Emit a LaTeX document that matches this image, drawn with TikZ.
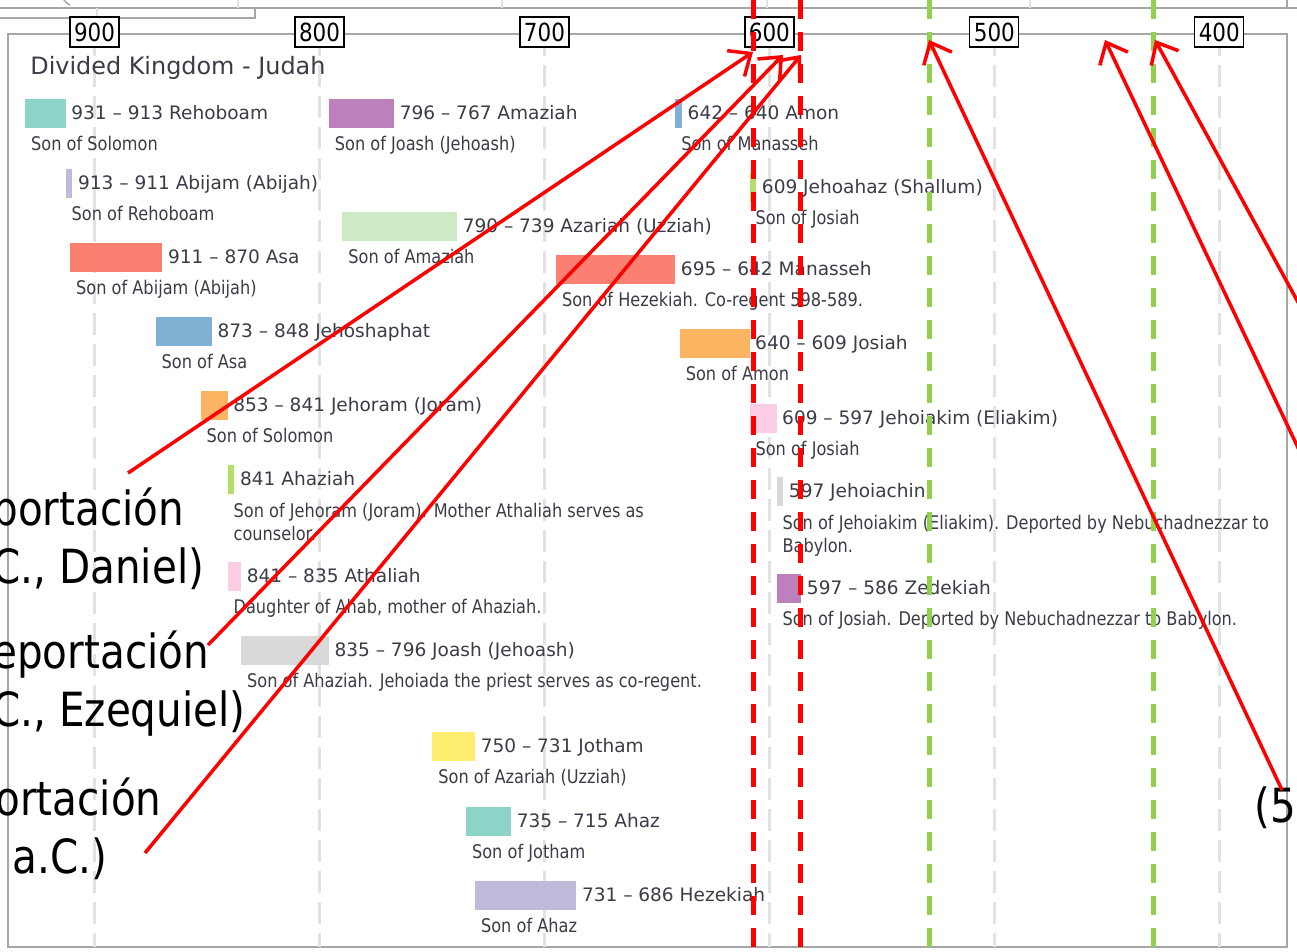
\documentclass[tikz,border=0pt]{standalone}
\usepackage{fontspec}
\newfontfamily\chartfont{DejaVu Sans}
\newfontfamily\narrowfont{DejaVu Sans}[FakeStretch=0.86]
\usepackage{xcolor}
\usetikzlibrary{positioning,arrows.meta}

\definecolor{ink}{HTML}{3C3C48}
\definecolor{panelgray}{HTML}{A6A6A6}
\definecolor{gridgray}{HTML}{E2E2E2}
\definecolor{returngreen}{HTML}{92D050}
\definecolor{cTeal}{HTML}{8DD3C7}
\definecolor{cLavender}{HTML}{BEBADA}
\definecolor{cSalmon}{HTML}{FB8072}
\definecolor{cBlue}{HTML}{80B1D3}
\definecolor{cOrange}{HTML}{FDB462}
\definecolor{cGreen}{HTML}{B3DE69}
\definecolor{cPink}{HTML}{FCCDE5}
\definecolor{cGray}{HTML}{D9D9D9}
\definecolor{cPurple}{HTML}{BC80BD}
\definecolor{cMint}{HTML}{CCEBC5}
\definecolor{cYellow}{HTML}{FFED6F}

\begin{document}
\begin{tikzpicture}[
    x=0.02cm, y=-0.02cm,
    >={Straight Barb[length=0.36cm,width=0.62cm]},
    bar/.style={anchor=west, inner sep=0pt, minimum height=0.58cm},
    yrs/.style={minimum width=#1*0.045cm},
    reign/.style={inner sep=0pt, text height=0.73em, text depth=0pt,
        text=ink, font=\chartfont\fontsize{10.55}{13}\selectfont},
    son/.style={anchor=west, inner sep=0pt, text height=0.73em, text depth=0pt,
        text=ink, font=\narrowfont\fontsize{10.7}{13.1}\selectfont},
    sonlong/.style={anchor=west, inner sep=0pt, align=left,
        text=ink, font=\narrowfont\fontsize{10.7}{13.1}\selectfont},
    heading/.style={inner sep=0pt, text=ink, font=\chartfont\fontsize{13.6}{16}\selectfont},
    yearbox/.style={draw=black, fill=white, line width=0.7pt, inner sep=0pt,
        minimum width=0.98cm, minimum height=0.6cm,
        font=\narrowfont\fontsize{14.2}{15}\selectfont},
    gridline/.style={draw=gridgray, line width=0.06cm, dash pattern=on 0.44cm off 0.18cm},
    falline/.style={draw=red, line width=0.1cm, dash pattern=on 0.38cm off 0.26cm},
    returnline/.style={draw=returngreen, line width=0.1cm, dash pattern=on 0.38cm off 0.26cm},
    pointer/.style={->, draw=red, line width=0.07cm},
    slide/.style={inner sep=0pt, text=black, font=\narrowfont\fontsize{26.8}{33}\selectfont}
]
\useasboundingbox (0,0) rectangle (1297,951);
\clip (0,0) rectangle (1297,951);
\fill[white] (0,0) rectangle (1297,951);

% Edge of the panel above
\draw[panelgray, line width=0.05cm] (0,8) -- (1297,8);
\draw[panelgray, line width=0.05cm] (0,18) -- (255,18) -- (255,8);
\draw[gridgray, line width=0.04cm] (97,8) -- (97,18);
\foreach \gx in {238,502,767,1030}
    \draw[gridgray, line width=0.04cm] (\gx,0) -- (\gx,8);
\draw[panelgray, line width=0.05cm] (1287,0) -- (1287,8);
\draw[panelgray, line width=0.03cm] (64,0) to[bend right=15] (70,5);

% Frame
\draw[panelgray, line width=0.05cm] (8,34) rectangle (1287,947);

\begin{scope}[x=-0.045cm, xshift=42.39cm]
% Axis
\foreach \yr in {900,800,...,400}
    \draw[gridline] (\yr,34) -- (\yr,947);
\foreach \yr in {900,800,...,400}
    \node[yearbox] (yr\yr) at (\yr,32) {\yr};

% Reigns
\node[bar, fill=cTeal, yrs=18] (rehoboam) at (931,113) {};
\node[reign, right=0.1cm of rehoboam] (rehoboam t) {931 – 913 Rehoboam};
\node[son] (rehoboam s) at ([shift={(0.12cm,-0.33cm)}]rehoboam.south west) {Son of Solomon};

\node[bar, fill=cLavender, yrs=3] (abijam) at (913,183) {};
\node[reign, right=0.1cm of abijam] (abijam t) {913 – 911 Abijam (Abijah)};
\node[son] (abijam s) at ([shift={(0.12cm,-0.33cm)}]abijam.south west) {Son of Rehoboam};

\node[bar, fill=cSalmon, yrs=41] (asa) at (911,257) {};
\node[reign, right=0.1cm of asa] (asa t) {911 – 870 Asa};
\node[son] (asa s) at ([shift={(0.12cm,-0.33cm)}]asa.south west) {Son of Abijam (Abijah)};

\node[bar, fill=cBlue, yrs=25] (jehoshaphat) at (873,331) {};
\node[reign, right=0.1cm of jehoshaphat] (jehoshaphat t) {873 – 848 Jehoshaphat};
\node[son] (jehoshaphat s) at ([shift={(0.12cm,-0.33cm)}]jehoshaphat.south west) {Son of Asa};

\node[bar, fill=cOrange, yrs=12] (jehoram) at (853,405) {};
\node[reign, right=0.1cm of jehoram] (jehoram t) {853 – 841 Jehoram (Joram)};
\node[son] (jehoram s) at ([shift={(0.12cm,-0.33cm)}]jehoram.south west) {Son of Solomon};

\node[bar, fill=cGreen, yrs=3] (ahaziah) at (841,479) {};
\node[reign, right=0.1cm of ahaziah] (ahaziah t) {841 Ahaziah};
\node[sonlong] (ahaziah s) at ([shift={(0.12cm,-0.56cm)}]ahaziah.south west)
    {Son of Jehoram (Joram). Mother Athaliah serves as\\counselor.};

\node[bar, fill=cPink, yrs=6] (athaliah) at (841,576) {};
\node[reign, right=0.1cm of athaliah] (athaliah t) {841 – 835 Athaliah};
\node[son] (athaliah s) at ([shift={(0.12cm,-0.33cm)}]athaliah.south west) {Daughter of Ahab, mother of Ahaziah.};

\node[bar, fill=cGray, yrs=39] (joash) at (835,650) {};
\node[reign, right=0.1cm of joash] (joash t) {835 – 796 Joash (Jehoash)};
\node[son] (joash s) at ([shift={(0.12cm,-0.33cm)}]joash.south west) {Son of Ahaziah. Jehoiada the priest serves as co-regent.};

\node[bar, fill=cPurple, yrs=29] (amaziah) at (796,113) {};
\node[reign, right=0.1cm of amaziah] (amaziah t) {796 – 767 Amaziah};
\node[son] (amaziah s) at ([shift={(0.12cm,-0.33cm)}]amaziah.south west) {Son of Joash (Jehoash)};

\node[bar, fill=cMint, yrs=51] (azariah) at (790,226) {};
\node[reign, right=0.1cm of azariah] (azariah t) {790 – 739 Azariah (Uzziah)};
\node[son] (azariah s) at ([shift={(0.12cm,-0.33cm)}]azariah.south west) {Son of Amaziah};

\node[bar, fill=cYellow, yrs=19] (jotham) at (750,746) {};
\node[reign, right=0.1cm of jotham] (jotham t) {750 – 731 Jotham};
\node[son] (jotham s) at ([shift={(0.12cm,-0.33cm)}]jotham.south west) {Son of Azariah (Uzziah)};

\node[bar, fill=cTeal, yrs=20] (ahaz) at (735,821) {};
\node[reign, right=0.1cm of ahaz] (ahaz t) {735 – 715 Ahaz};
\node[son] (ahaz s) at ([shift={(0.12cm,-0.33cm)}]ahaz.south west) {Son of Jotham};

\node[bar, fill=cLavender, yrs=45] (hezekiah) at (731,895) {};
\node[reign, right=0.1cm of hezekiah] (hezekiah t) {731 – 686 Hezekiah};
\node[son] (hezekiah s) at ([shift={(0.12cm,-0.33cm)}]hezekiah.south west) {Son of Ahaz};

\node[bar, fill=cSalmon, yrs=53] (manasseh) at (695,269) {};
\node[reign, right=0.1cm of manasseh] (manasseh t) {695 – 642 Manasseh};
\node[son] (manasseh s) at ([shift={(0.12cm,-0.33cm)}]manasseh.south west) {Son of Hezekiah. Co-regent 598-589.};

\node[bar, fill=cBlue, yrs=3] (amon) at (642,113) {};
\node[reign, right=0.1cm of amon] (amon t) {642 – 640 Amon};
\node[son] (amon s) at ([shift={(0.12cm,-0.33cm)}]amon.south west) {Son of Manasseh};

\node[bar, fill=cOrange, yrs=31] (josiah) at (640,343) {};
\node[reign, right=0.1cm of josiah] (josiah t) {640 – 609 Josiah};
\node[son] (josiah s) at ([shift={(0.12cm,-0.33cm)}]josiah.south west) {Son of Amon};

\node[bar, fill=cGreen, yrs=3] (jehoahaz) at (609,187) {};
\node[reign, right=0.1cm of jehoahaz] (jehoahaz t) {609 Jehoahaz (Shallum)};
\node[son] (jehoahaz s) at ([shift={(0.12cm,-0.33cm)}]jehoahaz.south west) {Son of Josiah};

\node[bar, fill=cPink, yrs=12] (jehoiakim) at (609,418) {};
\node[reign, right=0.1cm of jehoiakim] (jehoiakim t) {609 – 597 Jehoiakim (Eliakim)};
\node[son] (jehoiakim s) at ([shift={(0.12cm,-0.33cm)}]jehoiakim.south west) {Son of Josiah};

\node[bar, fill=cGray, yrs=3] (jehoiachin) at (597,491) {};
\node[reign, right=0.1cm of jehoiachin] (jehoiachin t) {597 Jehoiachin};
\node[sonlong] (jehoiachin s) at ([shift={(0.12cm,-0.6cm)}]jehoiachin.south west)
    {Son of Jehoiakim (Eliakim). Deported by Nebuchadnezzar to\\Babylon.};

\node[bar, fill=cPurple, yrs=11] (zedekiah) at (597,588) {};
\node[reign, right=0.1cm of zedekiah] (zedekiah t) {597 – 586 Zedekiah};
\node[son] (zedekiah s) at ([shift={(0.12cm,-0.33cm)}]zedekiah.south west) {Son of Josiah. Deported by Nebuchadnezzar to Babylon.};
\end{scope}

\node[heading, anchor=base west] (judah) at (30,74) {Divided Kingdom - Judah};

% Deportations and returns
\draw[falline] (753,0) -- (753,951);
\draw[falline] (800,0) -- (800,951);
\draw[returnline] (929,0) -- (929,951);
\draw[returnline] (1153,0) -- (1153,951);

% Slide labels
\node[slide, align=left, anchor=west] (dep1) at (-8,539) {portación\\C., Daniel)};
\node[slide, align=left, anchor=west] (dep2) at (-8,684) {eportación\\C., Ezequiel)};
\node[slide, align=left, anchor=west] (dep3) at (-5,829) {ortación\\\hspace*{0.34cm}a.C.)};
\node[slide, anchor=west] (ret1) at (1254,808) {(5};

\coordinate (dep1 tail) at (128,473);
\coordinate (dep2 tail) at (208,645);
\coordinate (dep3 tail) at (145,853);
\coordinate (ret1 tail) at (1282,790);
\coordinate (ret2 tail) at (1310,473);
\coordinate (ret3 tail) at (1311,326);
\coordinate (tip daniel) at (753,52);
\coordinate (tip ezekiel) at (783,55);
\coordinate (tip zedekiah) at (801,55);
\coordinate (tip ret1) at (929,40);
\coordinate (tip ret2) at (1105,40);
\coordinate (tip ret3) at (1155,40);

\draw[pointer] (dep1 tail) -- (tip daniel);
\draw[pointer] (dep2 tail) -- (tip ezekiel);
\draw[pointer] (dep3 tail) -- (tip zedekiah);
\draw[pointer] (ret1 tail) -- (tip ret1);
\draw[pointer] (ret2 tail) -- (tip ret2);
\draw[pointer] (ret3 tail) -- (tip ret3);

\end{tikzpicture}
\end{document}
